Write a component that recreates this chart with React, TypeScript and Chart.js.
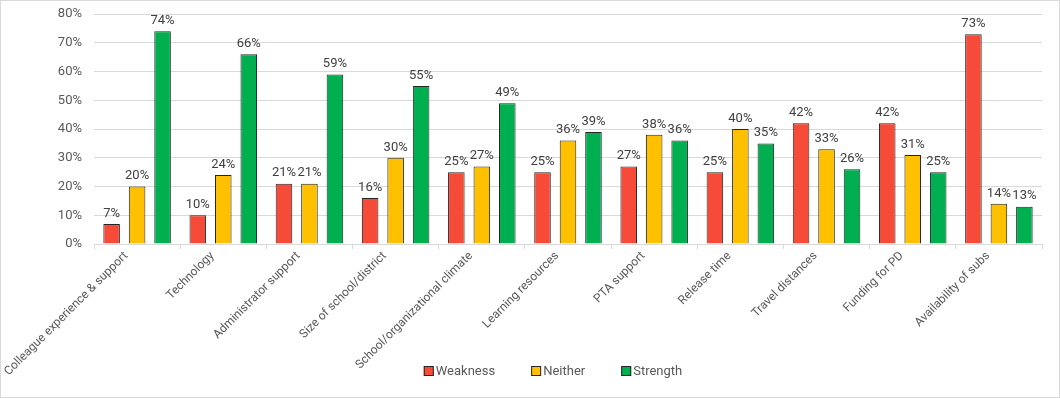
import React, { useEffect, useRef } from "react";
import { Chart, registerables } from "chart.js";

Chart.register(...registerables);

const categories = [
  "Colleague experience & support",
  "Technology",
  "Administrator support",
  "Size of school/district",
  "School/organizational climate",
  "Learning resources",
  "PTA support",
  "Release time",
  "Travel distances",
  "Funding for PD",
  "Availability of subs",
];
const weakness = [7, 10, 21, 16, 25, 25, 27, 25, 42, 42, 73];
const neither = [20, 24, 21, 30, 27, 36, 38, 40, 33, 31, 14];
const strength = [74, 66, 59, 55, 49, 39, 36, 35, 26, 25, 13];
const seriesNames = ["Weakness", "Neither", "Strength"];
const seriesColors = ["#F64B38", "#FFC000", "#00B050"];

const FONT = "Roboto";
const TEXT = "#595959";

const frame = {
  id: "frame",
  beforeDraw(chart: any) {
    const { ctx, width, height } = chart;
    ctx.save();
    ctx.fillStyle = "#ffffff";
    ctx.fillRect(0, 0, width, height);
    ctx.strokeStyle = "#d9d9d9";
    ctx.lineWidth = 1;
    ctx.strokeRect(0.5, 0.5, width - 1, height - 1);
    ctx.restore();
  },
};

const dataLabels = {
  id: "dataLabels",
  afterDatasetsDraw(chart: any) {
    const { ctx } = chart;
    ctx.save();
    ctx.font = `13px ${FONT}`;
    ctx.fillStyle = "#404040";
    ctx.textAlign = "center";
    ctx.textBaseline = "bottom";
    chart.data.datasets.forEach((ds: any, i: number) => {
      const meta = chart.getDatasetMeta(i);
      meta.data.forEach((bar: any, j: number) => {
        ctx.fillText(ds.data[j] + "%", bar.x, bar.y - 4);
      });
    });
    ctx.restore();
  },
};

const customLegend = {
  id: "customLegend",
  afterDraw(chart: any) {
    const { ctx } = chart;
    ctx.save();
    ctx.font = `13px ${FONT}`;
    ctx.textBaseline = "middle";
    ctx.textAlign = "left";
    const box = 10;
    const gap = 2;
    const spacing = 36;
    const widths = seriesNames.map((n) => box + gap + ctx.measureText(n).width);
    const total = widths.reduce((a, b) => a + b, 0) + spacing * (widths.length - 1);
    let x = 553 - total / 2;
    const y = 371;
    seriesNames.forEach((n, i) => {
      ctx.fillStyle = seriesColors[i];
      ctx.fillRect(x, y - box / 2, box, box);
      ctx.strokeStyle = "#262626";
      ctx.lineWidth = 1;
      ctx.strokeRect(x + 0.5, y - box / 2 + 0.5, box - 1, box - 1);
      ctx.fillStyle = TEXT;
      ctx.fillText(n, x + box + gap, y + 1);
      x += widths[i] + spacing;
    });
    ctx.restore();
  },
};

export default function App() {
  const ref = useRef<HTMLCanvasElement | null>(null);
  useEffect(() => {
    if (!ref.current) return;
    const datasets = [weakness, neither, strength].map((d, i) => ({
      label: seriesNames[i],
      data: d,
      backgroundColor: seriesColors[i],
      borderColor: "#262626",
      borderWidth: 1,
      categoryPercentage: 0.887,
      barPercentage: 0.65,
    }));
    const chart = new Chart(ref.current, {
      type: "bar",
      data: { labels: categories, datasets },
      options: {
        animation: false,
        responsive: true,
        maintainAspectRatio: false,
        layout: { padding: { top: 14, right: 18, left: 0, bottom: 0 } },
        plugins: { legend: { display: false }, tooltip: { enabled: false } },
        scales: {
          x: {
            afterFit(scale: any) {
              scale.height = 154;
            },
            grid: {
              drawOnChartArea: false,
              drawTicks: true,
              tickLength: 5,
              color: "#d9d9d9",
            },
            border: { display: true, color: "#d9d9d9" },
            ticks: {
              minRotation: 45,
              maxRotation: 45,
              autoSkip: false,
              color: TEXT,
              font: { family: FONT, size: 12 },
              padding: 0,
              labelOffset: -11,
            },
          },
          y: {
            min: 0,
            max: 80,
            afterFit(scale: any) {
              scale.width = 94;
              scale.paddingTop = 7;
              scale.paddingBottom = 7;
            },
            grid: { color: "#d9d9d9", drawTicks: false },
            border: { display: false },
            ticks: {
              stepSize: 10,
              padding: 12,
              color: TEXT,
              font: { family: FONT, size: 13 },
              callback: (v: any) => v + "%",
            },
          },
        },
      },
      plugins: [frame, dataLabels, customLegend],
    });
    return () => chart.destroy();
  }, []);
  return (
    <div style={{ position: "absolute", left: 0, top: 0, width: 1060, height: 398 }}>
      <canvas ref={ref} />
    </div>
  );
}
